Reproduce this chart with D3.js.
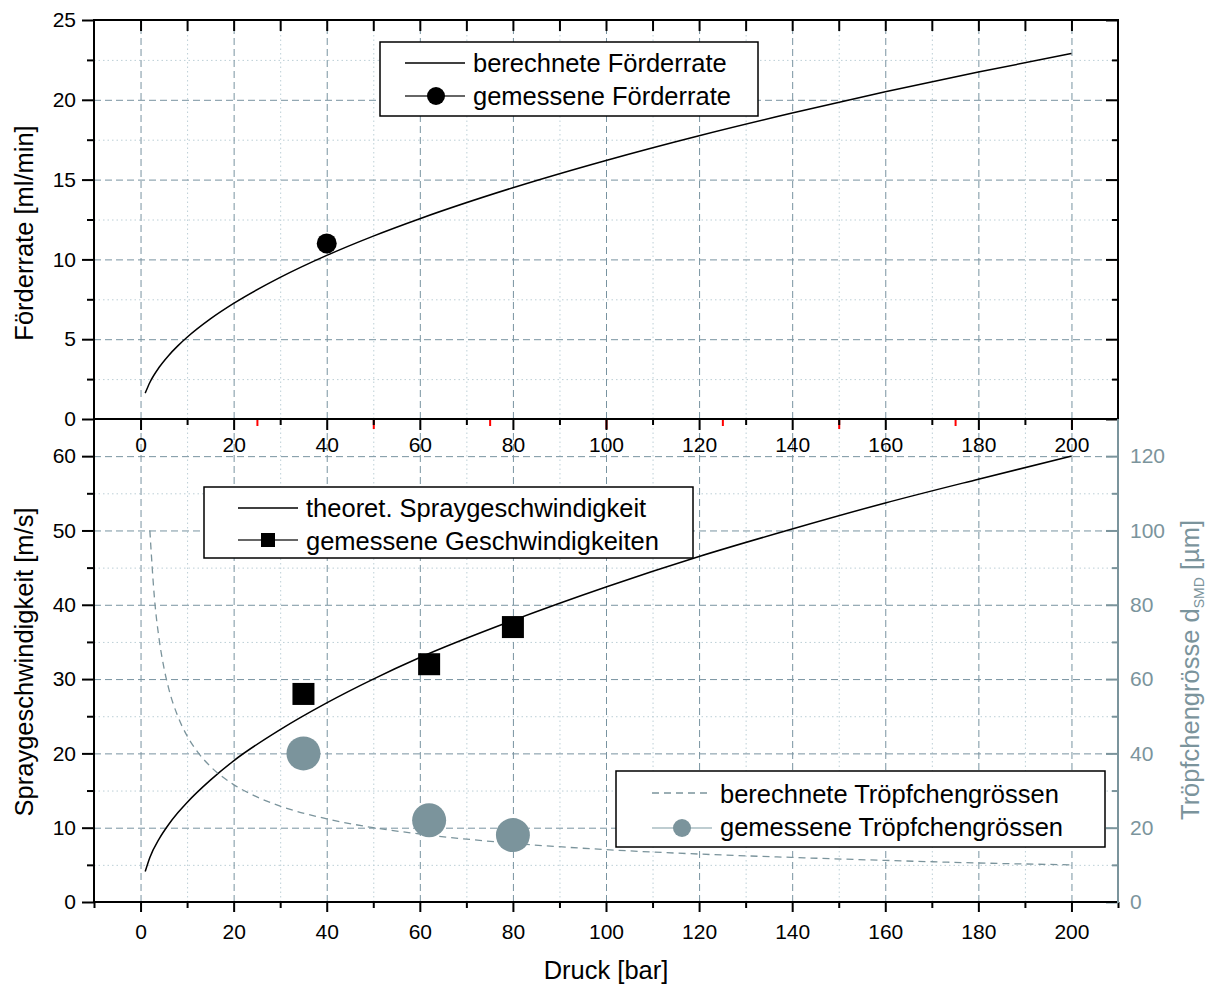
<!DOCTYPE html>
<html>
<head>
<meta charset="utf-8">
<script src="https://cdn.jsdelivr.net/npm/d3@7"></script>
<style>
  body { margin: 0; background: #fff; }
  svg { font-family: "Liberation Sans", Arial, sans-serif; }
  .tick text { font-size: 21px; fill: #000; }
  .domain { display: none; }
  .grid line { stroke: #7893a0; stroke-width: 1; stroke-dasharray: 7,4; }
  .grid2 line { stroke: #bccfd6; stroke-width: 1; stroke-dasharray: 1.5,3; }
</style>
</head>
<body>
<svg id="chart"></svg>
<script>

// pressure values (x) and values
var pressCalc  = [1, 2, 4, 6, 8, 10, 15, 20, 30, 40, 50, 60, 80, 100, 120, 140, 160, 180, 200];
var rateCalc   = [1.62, 2.29, 3.24, 3.97, 4.58, 5.12, 6.27, 7.24, 8.87, 10.25, 11.46, 12.55, 14.49, 16.2, 17.75, 19.17, 20.5, 21.74, 22.9];
var speedCalc  = [4.1, 6.0, 8.5, 10.4, 12.0, 13.4, 16.4, 19.0, 23.2, 26.8, 30.0, 32.9, 37.9, 42.4, 46.5, 50.2, 53.7, 56.9, 60.0];

var pressDrop  = [2, 3, 4, 5, 6, 8, 10, 12, 15, 20, 25, 30, 40, 50, 60, 80, 100, 120, 140, 160, 180, 200];
var dropCalc   = [100, 81.6, 70.7, 63.2, 57.7, 50, 44.7, 40.8, 36.5, 31.6, 28.3, 25.8, 22.4, 20, 18.3, 15.8, 14.1, 12.9, 12.0, 11.2, 10.5, 10.0];

var pressRateMeas = [40];
var rateMeas      = [11];
var pressMeas  = [35, 62, 80];
var speedMeas  = [28, 32, 37];
var dropMeas   = [40, 22, 18];

var xTicksMajor = [0, 20, 40, 60, 80, 100, 120, 140, 160, 180, 200];
var xTicksMinor = [10, 30, 50, 70, 90, 110, 130, 150, 170, 190];
var yTopMajor   = [0, 5, 10, 15, 20, 25];
var yTopMinor   = [2.5, 7.5, 12.5, 17.5, 22.5];
var yBotMajor   = [0, 10, 20, 30, 40, 50, 60];
var yBotMinor   = [5, 15, 25, 35, 45, 55];
var yRightMajor = [0, 20, 40, 60, 80, 100, 120];
var yRightMinor = [10, 30, 50, 70, 90, 110];

var gray = "#7b949c";

var width = 1208, height = 985;
var left = 94, right = 1118, topY = 20, midY = 419, botY = 902;

var svg = d3.select("#chart").attr("width", width).attr("height", height);

var x = d3.scaleLinear().domain([-10, 210]).range([left, right]);
var yTop = d3.scaleLinear().domain([0, 25]).range([midY, topY]);
var yBot = d3.scaleLinear().domain([0, 65]).range([botY, midY]);
var yRight = d3.scaleLinear().domain([0, 130]).range([botY, midY]);

// gridlines
function gridX(vals, y0, y1, cls) {
  svg.append("g").attr("class", cls)
    .attr("transform", "translate(0," + y1 + ")")
    .call(d3.axisBottom(x).tickValues(vals).tickSize(-(y1 - y0)).tickFormat(""));
}
function gridY(scale, vals, cls) {
  svg.append("g").attr("class", cls)
    .attr("transform", "translate(" + left + ",0)")
    .call(d3.axisLeft(scale).tickValues(vals).tickSize(-(right - left)).tickFormat(""));
}
gridX(xTicksMinor, topY, midY, "grid2");
gridX(xTicksMinor, midY, botY, "grid2");
gridY(yTop, yTopMinor, "grid2");
gridY(yBot, yBotMinor, "grid2");
gridX(xTicksMajor, topY, midY, "grid");
gridX(xTicksMajor, midY, botY, "grid");
gridY(yTop, [5, 10, 15, 20], "grid");
gridY(yBot, [10, 20, 30, 40, 50, 60], "grid");

// ticks helper
function ticks(axis, tx, ty, color, width) {
  var g = svg.append("g")
    .attr("transform", "translate(" + tx + "," + ty + ")")
    .call(axis);
  g.selectAll(".tick line").attr("stroke", color).attr("stroke-width", width || 2);
  return g;
}

// top panel axes
ticks(d3.axisBottom(x).tickValues(xTicksMajor.concat(xTicksMinor)).tickSize(11).tickFormat(""), 0, topY, "#000");
ticks(d3.axisLeft(yTop).tickValues(yTopMajor).tickSize(12).tickPadding(6), left, 0, "#000");
ticks(d3.axisLeft(yTop).tickValues(yTopMinor).tickSize(7).tickFormat(""), left, 0, "#000");
ticks(d3.axisLeft(yTop).tickValues(yTopMajor).tickSize(12).tickFormat(""), right, 0, "#000");
ticks(d3.axisLeft(yTop).tickValues(yTopMinor).tickSize(6).tickFormat(""), right, 0, "#000");

// red ticks on the middle line
ticks(d3.axisBottom(x).tickValues([25, 75, 125, 175]).tickSize(7).tickFormat(""), 0, midY, "#f00");
ticks(d3.axisBottom(x).tickValues([50, 100, 150, 200]).tickSize(10).tickFormat(""), 0, midY, "#f00");
ticks(d3.axisBottom(x).tickValues(xTicksMajor).tickSize(11).tickPadding(7), 0, midY, "#000");
ticks(d3.axisBottom(x).tickValues(xTicksMinor).tickSize(6).tickFormat(""), 0, midY, "#000");

// bottom panel axes
ticks(d3.axisLeft(yBot).tickValues(yBotMajor).tickSize(12).tickPadding(6), left, 0, "#000");
ticks(d3.axisLeft(yBot).tickValues(yBotMinor).tickSize(7).tickFormat(""), left, 0, "#000");
ticks(d3.axisBottom(x).tickValues(xTicksMajor).tickSize(10).tickPadding(12), 0, botY, "#000");
ticks(d3.axisBottom(x).tickValues([-10].concat(xTicksMinor, [210])).tickSize(6).tickFormat(""), 0, botY, "#000");
ticks(d3.axisLeft(yRight).tickValues(yRightMajor).tickSize(12).tickFormat(""), right, 0, gray);
ticks(d3.axisLeft(yRight).tickValues(yRightMinor).tickSize(6).tickFormat(""), right, 0, gray);
var ra = ticks(d3.axisRight(yRight).tickValues(yRightMajor).tickSize(0).tickPadding(12), right, 0, gray);
ra.selectAll(".tick text").style("fill", gray);

// frame lines
svg.append("rect").attr("x", left).attr("y", topY)
  .attr("width", right - left).attr("height", midY - topY)
  .attr("fill", "none").attr("stroke", "#000").attr("stroke-width", 2);
svg.append("line").attr("x1", left).attr("x2", left).attr("y1", midY).attr("y2", botY)
  .attr("stroke", "#000").attr("stroke-width", 2);
svg.append("line").attr("x1", left - 1).attr("x2", right).attr("y1", botY).attr("y2", botY)
  .attr("stroke", "#000").attr("stroke-width", 2);
svg.append("line").attr("x1", right).attr("x2", right).attr("y1", midY).attr("y2", botY + 1)
  .attr("stroke", gray).attr("stroke-width", 2);

// curves
var lineTop = d3.line()
  .x(function(d, i) { return x(pressCalc[i]); })
  .y(function(d) { return yTop(d); })
  .curve(d3.curveMonotoneX);
svg.append("path").datum(rateCalc).attr("d", lineTop)
  .attr("fill", "none").attr("stroke", "#000").attr("stroke-width", 1.5);

var lineSpeed = d3.line()
  .x(function(d, i) { return x(pressCalc[i]); })
  .y(function(d) { return yBot(d); })
  .curve(d3.curveMonotoneX);
svg.append("path").datum(speedCalc).attr("d", lineSpeed)
  .attr("fill", "none").attr("stroke", "#000").attr("stroke-width", 1.5);

var lineDrop = d3.line()
  .x(function(d, i) { return x(pressDrop[i]); })
  .y(function(d) { return yRight(d); })
  .curve(d3.curveMonotoneX);
svg.append("path").datum(dropCalc).attr("d", lineDrop)
  .attr("fill", "none").attr("stroke", gray).attr("stroke-width", 1.3)
  .attr("stroke-dasharray", "7,5");

// measured points
svg.selectAll(".mrate").data(rateMeas).enter().append("circle")
  .attr("cx", function(d, i) { return x(pressRateMeas[i]); })
  .attr("cy", function(d) { return yTop(d); })
  .attr("r", 10).attr("fill", "#000");

svg.selectAll(".mspeed").data(speedMeas).enter().append("rect")
  .attr("x", function(d, i) { return x(pressMeas[i]) - 11; })
  .attr("y", function(d) { return yBot(d) - 11; })
  .attr("width", 22).attr("height", 22).attr("fill", "#000");

svg.selectAll(".mdrop").data(dropMeas).enter().append("circle")
  .attr("cx", function(d, i) { return x(pressMeas[i]); })
  .attr("cy", function(d) { return yRight(d); })
  .attr("r", 17).attr("fill", gray);

// axis titles
svg.append("text")
  .attr("transform", "translate(33,233) rotate(-90)")
  .style("text-anchor", "middle").style("font-size", "25.5px")
  .text("Förderrate [ml/min]");
svg.append("text")
  .attr("transform", "translate(33,662) rotate(-90)")
  .style("text-anchor", "middle").style("font-size", "25.5px")
  .text("Spraygeschwindigkeit [m/s]");
var rt = svg.append("text")
  .attr("transform", "translate(1199,670) rotate(-90)")
  .style("text-anchor", "middle").style("font-size", "25.5px")
  .style("fill", gray);
rt.append("tspan").text("Tröpfchengrösse d");
rt.append("tspan").attr("dy", 5).style("font-size", "14px").text("SMD");
rt.append("tspan").attr("dy", -5).text(" [µm]");
svg.append("text")
  .attr("x", 606).attr("y", 979)
  .style("text-anchor", "middle").style("font-size", "25.5px")
  .text("Druck [bar]");

// legends
function legendBox(x0, y0, w, h) {
  svg.append("rect").attr("x", x0).attr("y", y0).attr("width", w).attr("height", h)
    .attr("fill", "#fff").attr("stroke", "#000").attr("stroke-width", 1.5);
}
function legendText(tx, ty, s) {
  svg.append("text").attr("x", tx).attr("y", ty)
    .style("font-size", "25.5px").text(s);
}
function sampleLine(x0, x1, yy, color, dash) {
  svg.append("line").attr("x1", x0).attr("x2", x1).attr("y1", yy).attr("y2", yy)
    .attr("stroke", color).attr("stroke-width", 1.3)
    .attr("stroke-dasharray", dash || null);
}

legendBox(380, 42, 378, 74);
sampleLine(405, 465, 63, "#000");
legendText(473, 72, "berechnete Förderrate");
sampleLine(405, 465, 96, "#333");
svg.append("circle").attr("cx", 436).attr("cy", 96).attr("r", 9).attr("fill", "#000");
legendText(473, 105, "gemessene Förderrate");

legendBox(204, 487, 489, 71);
sampleLine(238, 298, 508, "#000");
legendText(306, 517, "theoret. Spraygeschwindigkeit");
sampleLine(238, 298, 540, "#333");
svg.append("rect").attr("x", 261).attr("y", 533).attr("width", 14).attr("height", 14).attr("fill", "#000");
legendText(306, 550, "gemessene Geschwindigkeiten");

legendBox(616, 771, 489, 76);
sampleLine(652, 712, 793, gray, "7,5");
legendText(720, 803, "berechnete Tröpfchengrössen");
sampleLine(652, 712, 828, "#a9bcc2");
svg.append("circle").attr("cx", 682).attr("cy", 828).attr("r", 9).attr("fill", gray);
legendText(720, 836, "gemessene Tröpfchengrössen");

</script>
</body>
</html>
